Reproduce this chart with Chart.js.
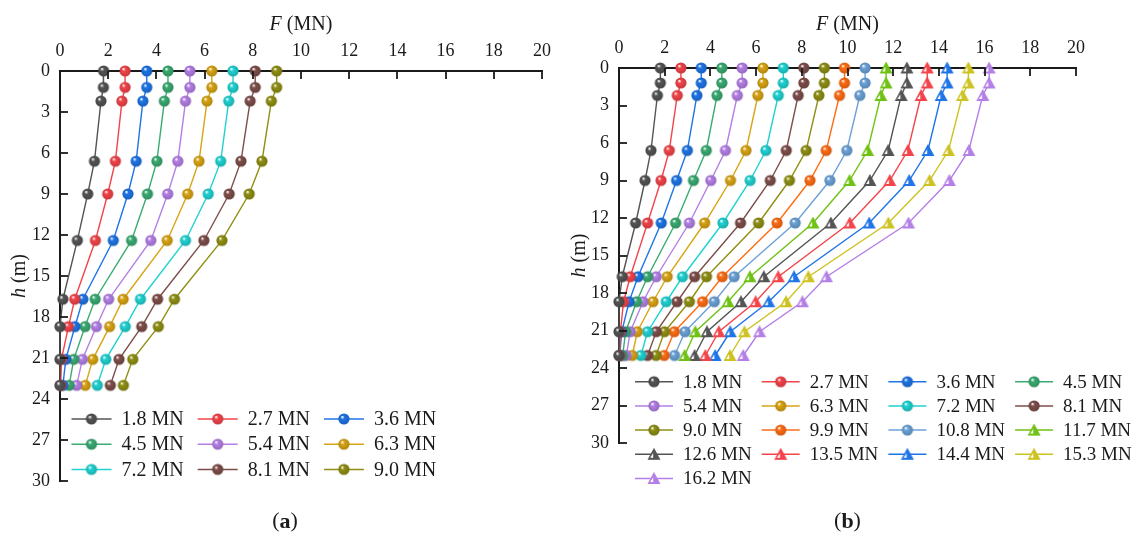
<!DOCTYPE html>
<html>
<head>
<meta charset="utf-8">
<script src="https://cdn.jsdelivr.net/npm/chart.js@4/dist/chart.umd.min.js"></script>
<style>
  body { margin: 0; background: #fff; font-family: "Liberation Serif", serif; }
  #wrap { position: relative; width: 1136px; height: 534px; }
  canvas { position: absolute; top: 0; }
</style>
</head>
<body>
<div id="wrap">
  <canvas id="chartA" width="560" height="534" style="left:0"></canvas>
  <canvas id="chartB" width="576" height="534" style="left:560px"></canvas>
</div>
<script>
// depth of the measuring points (m)
var depth = [0, 1.2, 2.2, 6.6, 9.0, 12.4, 16.7, 18.7, 21.1, 23.0];
var xTicks = [0, 2, 4, 6, 8, 10, 12, 14, 16, 18, 20];
var yTicks = [0, 3, 6, 9, 12, 15, 18, 21, 24, 27, 30];

// (a) axial force per load level (MN)
var loadsA = ['1.8 MN', '2.7 MN', '3.6 MN', '4.5 MN', '5.4 MN', '6.3 MN', '7.2 MN', '8.1 MN', '9.0 MN'];
var a18 = [1.81, 1.80, 1.70, 1.43, 1.15, 0.72, 0.12, 0, 0, 0];
var a27 = [2.70, 2.70, 2.57, 2.30, 1.98, 1.47, 0.61, 0.35, 0.06, 0.03];
var a36 = [3.60, 3.60, 3.44, 3.16, 2.82, 2.21, 0.95, 0.62, 0.24, 0.12];
var a45 = [4.48, 4.48, 4.33, 4.02, 3.63, 2.97, 1.46, 1.04, 0.57, 0.38];
var a54 = [5.39, 5.39, 5.21, 4.89, 4.47, 3.77, 2.02, 1.51, 0.93, 0.69];
var a63 = [6.30, 6.30, 6.10, 5.77, 5.30, 4.45, 2.62, 2.06, 1.36, 1.05];
var a72 = [7.18, 7.18, 7.00, 6.67, 6.15, 5.21, 3.34, 2.71, 1.90, 1.55];
var a81 = [8.10, 8.10, 7.89, 7.51, 7.02, 5.97, 4.05, 3.39, 2.45, 2.09];
var a90 = [8.99, 8.99, 8.77, 8.38, 7.85, 6.72, 4.75, 4.08, 3.02, 2.63];

// (b) axial force per load level (MN)
var loadsB = ['1.8 MN', '2.7 MN', '3.6 MN', '4.5 MN', '5.4 MN', '6.3 MN', '7.2 MN', '8.1 MN', '9.0 MN',
              '9.9 MN', '10.8 MN', '11.7 MN', '12.6 MN', '13.5 MN', '14.4 MN', '15.3 MN', '16.2 MN'];
var b18  = [1.81, 1.81, 1.68, 1.40, 1.14, 0.73, 0.14, 0, 0, 0];
var b27  = [2.71, 2.71, 2.55, 2.20, 1.84, 1.25, 0.49, 0.20, 0.06, 0.03];
var b36  = [3.60, 3.60, 3.41, 2.99, 2.52, 1.85, 0.83, 0.44, 0.12, 0.03];
var b45  = [4.50, 4.50, 4.29, 3.82, 3.26, 2.48, 1.25, 0.77, 0.29, 0.16];
var b54  = [5.39, 5.39, 5.18, 4.66, 4.02, 3.08, 1.63, 1.05, 0.49, 0.32];
var b63  = [6.30, 6.30, 6.08, 5.56, 4.88, 3.75, 2.11, 1.49, 0.80, 0.58];
var b72  = [7.19, 7.19, 6.97, 6.43, 5.74, 4.55, 2.78, 2.07, 1.25, 0.96];
var b81  = [8.09, 8.09, 7.84, 7.32, 6.62, 5.32, 3.31, 2.54, 1.63, 1.25];
var b90  = [8.99, 8.99, 8.75, 8.19, 7.46, 6.11, 3.83, 3.08, 1.99, 1.62];
var b99  = [9.87, 9.87, 9.65, 9.07, 8.36, 6.92, 4.52, 3.66, 2.42, 1.98];
var b108 = [10.77, 10.77, 10.54, 9.97, 9.23, 7.71, 5.04, 4.17, 2.89, 2.43];
var b117 = [11.69, 11.69, 11.46, 10.88, 10.09, 8.49, 5.73, 4.77, 3.34, 2.87];
var b126 = [12.60, 12.60, 12.35, 11.78, 10.98, 9.27, 6.34, 5.34, 3.85, 3.31];
var b135 = [13.49, 13.49, 13.22, 12.64, 11.85, 10.10, 6.97, 5.98, 4.37, 3.78];
var b144 = [14.36, 14.36, 14.10, 13.52, 12.70, 10.95, 7.66, 6.55, 4.87, 4.21];
var b153 = [15.29, 15.29, 15.03, 14.42, 13.59, 11.79, 8.29, 7.31, 5.49, 4.86];
var b162 = [16.20, 16.20, 15.92, 15.31, 14.46, 12.67, 9.08, 8.03, 6.15, 5.44];

var seriesA = [a18, a27, a36, a45, a54, a63, a72, a81, a90];
var seriesB = [b18, b27, b36, b45, b54, b63, b72, b81, b90, b99, b108, b117, b126, b135, b144, b153, b162];

var colorsA = ['#545454', '#f2444a', '#1f74e6', '#3aab72', '#b47fe6', '#d8a414', '#20d2d2', '#7e4e4a', '#8f8f14'];
var colorsB = ['#545454', '#f2444a', '#1f74e6', '#3aab72', '#b47fe6', '#d8a414', '#20d2d2', '#7e4e4a', '#8f8f14',
               '#ff6c14', '#6ca2d8', '#6fc214', '#545454', '#f2444a', '#1f74e6', '#cdc222', '#b47fe6'];

var SERIF = '"Liberation Serif", "Times New Roman", serif';
var INK = '#1a1a1a';

function darker(hex, k) {
  var n = parseInt(hex.slice(1), 16);
  var r = Math.round(((n >> 16) & 255) * k), g = Math.round(((n >> 8) & 255) * k), b = Math.round((n & 255) * k);
  return 'rgb(' + r + ',' + g + ',' + b + ')';
}

function sphere(color) {
  var r = 5.6, s = 14;
  var c = document.createElement('canvas');
  c.width = s; c.height = s;
  var g = c.getContext('2d');
  var grad = g.createRadialGradient(s / 2 - 1.8, s / 2 - 2.2, 0.3, s / 2, s / 2, r);
  grad.addColorStop(0, '#ffffff');
  grad.addColorStop(0.3, color);
  grad.addColorStop(1, darker(color, 0.82));
  g.beginPath();
  g.arc(s / 2, s / 2, r, 0, Math.PI * 2);
  g.fillStyle = grad;
  g.fill();
  return c;
}

function triangle(color) {
  var w = 12, h = 11;
  var c = document.createElement('canvas');
  c.width = w + 2; c.height = h + 2;
  var g = c.getContext('2d');
  var cx = (w + 2) / 2, top = 1.2, bot = h + 0.5;
  g.beginPath();
  g.moveTo(cx, top); g.lineTo(cx + w / 2 - 0.5, bot); g.lineTo(cx - w / 2 + 0.5, bot); g.closePath();
  g.fillStyle = color; g.fill();
  g.lineWidth = 1.2; g.strokeStyle = color; g.stroke();
  g.beginPath();
  g.moveTo(cx - 0.8, top + 4); g.lineTo(cx - 0.8, bot - 1.6); g.lineTo(cx - 3.8, bot - 1.6); g.closePath();
  g.fillStyle = '#ffffff'; g.fill();
  return c;
}

function makeSets(labels, series, colors, triFrom) {
  return series.map(function (vals, i) {
    var img = i >= triFrom ? triangle(colors[i]) : sphere(colors[i]);
    return {
      label: labels[i],
      data: vals.map(function (v, j) { return { x: v, y: depth[j] }; }),
      borderColor: colors[i],
      backgroundColor: colors[i],
      borderWidth: 1.4,
      showLine: true,
      pointStyle: img,
      pointRadius: 6,
      clip: false
    };
  });
}

// draws inner ticks, axis titles, legend grid and panel label
function decorPlugin(cfg) {
  return {
    id: 'decor',
    afterDraw: function (chart) {
      var ctx = chart.ctx, area = chart.chartArea;
      var xs = chart.scales.x, ys = chart.scales.y;
      ctx.save();
      ctx.strokeStyle = INK;
      ctx.lineWidth = 1.8;
      xTicks.forEach(function (t) {
        if (t === 0) return;
        var px = Math.round(xs.getPixelForValue(t));
        ctx.beginPath(); ctx.moveTo(px, area.top); ctx.lineTo(px, area.top + 8); ctx.stroke();
      });
      yTicks.forEach(function (t) {
        if (t === 0) return;
        var py = Math.round(ys.getPixelForValue(t));
        ctx.beginPath(); ctx.moveTo(area.left, py); ctx.lineTo(area.left + 8, py); ctx.stroke();
      });

      ctx.fillStyle = INK;
      ctx.textBaseline = 'middle';
      // F (MN)
      var midX = (area.left + area.right) / 2;
      ctx.font = 'italic 20px ' + SERIF;
      var wF = ctx.measureText('F').width;
      ctx.font = '20px ' + SERIF;
      var wR = ctx.measureText(' (MN)').width;
      var x0 = midX - (wF + wR) / 2;
      ctx.textAlign = 'left';
      ctx.font = 'italic 20px ' + SERIF; ctx.fillText('F', x0, 25);
      ctx.font = '20px ' + SERIF; ctx.fillText(' (MN)', x0 + wF, 25);
      // h (m)
      ctx.save();
      ctx.translate(cfg.hx, (area.top + area.bottom) / 2);
      ctx.rotate(-Math.PI / 2);
      ctx.font = 'italic 20px ' + SERIF;
      var wh = ctx.measureText('h').width;
      ctx.font = '20px ' + SERIF;
      var wm = ctx.measureText(' (m)').width;
      var h0 = -(wh + wm) / 2;
      ctx.font = 'italic 20px ' + SERIF; ctx.fillText('h', h0, 0);
      ctx.font = '20px ' + SERIF; ctx.fillText(' (m)', h0 + wh, 0);
      ctx.restore();
      // panel label
      ctx.font = '22px ' + SERIF;
      var wp = ctx.measureText('(').width;
      ctx.font = 'bold 22px ' + SERIF;
      var wl = ctx.measureText(cfg.tag).width;
      var p0 = cfg.tagX - (2 * wp + wl) / 2;
      ctx.font = '22px ' + SERIF; ctx.fillText('(', p0, 521);
      ctx.font = 'bold 22px ' + SERIF; ctx.fillText(cfg.tag, p0 + wp, 522);
      ctx.font = '22px ' + SERIF; ctx.fillText(')', p0 + wp + wl, 521);

      // legend grid
      ctx.font = cfg.legFont + 'px ' + SERIF;
      chart.data.datasets.forEach(function (ds, i) {
        var col = i % cfg.cols, row = Math.floor(i / cfg.cols);
        var lx = cfg.legX + col * cfg.colW, ly = cfg.legY + row * cfg.rowH;
        ctx.strokeStyle = ds.borderColor;
        ctx.lineWidth = 1.5;
        ctx.beginPath(); ctx.moveTo(lx, ly); ctx.lineTo(lx + cfg.lineLen, ly); ctx.stroke();
        var img = ds.pointStyle;
        ctx.drawImage(img, lx + cfg.lineLen / 2 - img.width / 2, ly - img.height / 2);
        ctx.fillStyle = INK;
        ctx.fillText(ds.label, lx + cfg.lineLen + 10, ly + 1);
      });
      ctx.restore();
    }
  };
}

function makeChart(id, sets, yW, xH, pad, cfg) {
  return new Chart(document.getElementById(id), {
    type: 'scatter',
    data: { datasets: sets },
    options: {
      responsive: false,
      animation: false,
      events: [],
      layout: { padding: pad, autoPadding: false },
      plugins: { legend: { display: false }, tooltip: { enabled: false } },
      scales: {
        x: {
          type: 'linear', position: 'top', min: 0, max: 20,
          afterBuildTicks: function (s) { s.ticks = xTicks.map(function (v) { return { value: v }; }); },
          afterFit: function (s) { s.height = xH; },
          grid: { drawOnChartArea: false, drawTicks: false },
          border: { display: true, color: INK, width: 2 },
          ticks: { padding: 9, color: INK, font: { family: SERIF, size: 18 } }
        },
        y: {
          type: 'linear', reverse: true, min: 0, max: 30,
          afterBuildTicks: function (s) { s.ticks = yTicks.map(function (v) { return { value: v }; }); },
          afterFit: function (s) { s.width = yW; },
          grid: { drawOnChartArea: false, drawTicks: false },
          border: { display: true, color: INK, width: 2 },
          ticks: { padding: 10, color: INK, font: { family: SERIF, size: 18 } }
        }
      }
    },
    plugins: [decorPlugin(cfg)]
  });
}

function drawAll() {
  makeChart('chartA', makeSets(loadsA, seriesA, colorsA, 99), 60, 71,
    { left: 0, top: 0, right: 6, bottom: 53 },
    { hx: 20, tag: 'a', tagX: 285, cols: 3, colW: 126.2, rowH: 25.2, legX: 71.5, legY: 419, lineLen: 40, legFont: 20 });

  makeChart('chartB', makeSets(loadsB, seriesB, colorsB, 11), 59, 68,
    { left: 0, top: 0, right: 60, bottom: 91 },
    { hx: 20, tag: 'b', tagX: 287.5, cols: 4, colW: 126.7, rowH: 24.2, legX: 75, legY: 381.7, lineLen: 38, legFont: 19 });
}

var fontsWanted = ['18px "Liberation Serif"', '20px "Liberation Serif"', 'italic 20px "Liberation Serif"', 'bold 22px "Liberation Serif"'];
if (document.fonts && document.fonts.load) {
  Promise.all(fontsWanted.map(function (f) { return document.fonts.load(f); })).then(drawAll, drawAll);
} else {
  drawAll();
}
</script>
</body>
</html>
